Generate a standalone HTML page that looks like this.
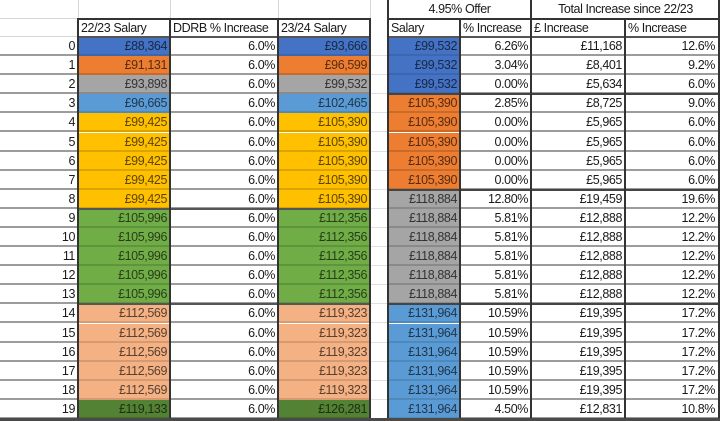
<!DOCTYPE html>
<html>
<head>
<meta charset="utf-8">
<style>
html,body{margin:0;padding:0;background:#fff;}
body{width:720px;height:421px;position:relative;overflow:hidden;font-family:"Liberation Sans",Arial,sans-serif;font-size:12.5px;color:#1a1a1a;}
.r{position:absolute;left:0;width:720px;height:19.1px;}
.r div{position:absolute;top:0;height:100%;box-sizing:border-box;border-bottom:2px solid #9c9c9c;text-align:right;padding-right:3px;line-height:18px;white-space:nowrap;letter-spacing:-0.4px;}
.i{left:0;width:78px;}
.a{left:78px;width:92px;}
.b{left:170px;width:108px;}
.c{left:278px;width:92px;}
.g{left:370px;width:18px;border-bottom-color:#e0e0e0 !important;border-bottom-width:1px !important;}
.d{left:388px;width:72px;}
.e{left:460px;width:71px;}
.f{left:531px;width:94px;}
.h{left:625px;width:95px;padding-right:5px !important;}
.bl{background:#4472c4;color:rgba(0,0,0,0.65);border-bottom-color:#3d66b0 !important;}
.or{background:#ed7d31;color:rgba(0,0,0,0.65);border-bottom-color:#c86a2a !important;}
.gy{background:#a5a5a5;color:rgba(0,0,0,0.7);border-bottom-color:#8a8a8a !important;}
.lb{background:#5b9bd5;color:rgba(0,0,0,0.65);border-bottom-color:#4f88bb !important;}
.ye{background:#ffc000;color:rgba(0,0,0,0.65);border-bottom-color:#d9a400 !important;}
.gr{background:#70ad47;color:rgba(0,0,0,0.65);border-bottom-color:#5f943c !important;}
.pe{background:#f4b183;color:rgba(0,0,0,0.65);border-bottom-color:#d69a72 !important;}
.dg{background:#548235;color:rgba(0,0,0,0.65);border-bottom-color:#466e2c !important;}
.vl{position:absolute;background:#333;width:2px;}
.hl{position:absolute;background:#333;height:2px;}
.lg{position:absolute;background:#d6d6d6;}
.hd{position:absolute;height:18px;line-height:18px;top:19px;padding-left:3px;box-sizing:border-box;letter-spacing:-0.4px;}
</style>
</head>
<body>
<div class="lg" style="left:78px;top:0;width:1px;height:19px"></div>
<div class="lg" style="left:170px;top:0;width:1px;height:19px"></div>
<div class="lg" style="left:278px;top:0;width:1px;height:19px"></div>
<div class="lg" style="left:370px;top:0;width:1px;height:419px"></div>
<div class="lg" style="left:0;top:18px;width:78px;height:1px"></div>
<div class="lg" style="left:0;top:36px;width:78px;height:1px"></div>

<div class="hd" style="left:78px;width:92px">22/23 Salary</div>
<div class="hd" style="left:170px;width:108px">DDRB % Increase</div>
<div class="hd" style="left:278px;width:92px">23/24 Salary</div>
<div class="hd" style="left:388px;width:72px">Salary</div>
<div class="hd" style="left:460px;width:71px">% Increase</div>
<div class="hd" style="left:531px;width:94px">£ Increase</div>
<div class="hd" style="left:625px;width:95px">% Increase</div>
<div style="position:absolute;left:388px;width:143px;top:0;height:19px;line-height:19px;text-align:center;letter-spacing:-0.4px">4.95% Offer</div>
<div style="position:absolute;left:531px;width:189px;top:0;height:19px;line-height:19px;text-align:center;letter-spacing:-0.4px">Total Increase since 22/23</div>

<div class="r" style="top:37px"><div class="i">0</div><div class="a bl">£88,364</div><div class="b">6.0%</div><div class="c bl">£93,666</div><div class="g"></div><div class="d bl">£99,532</div><div class="e">6.26%</div><div class="f">£11,168</div><div class="h">12.6%</div></div>
<div class="r" style="top:56.1px"><div class="i">1</div><div class="a or">£91,131</div><div class="b">6.0%</div><div class="c or">£96,599</div><div class="g"></div><div class="d bl">£99,532</div><div class="e">3.04%</div><div class="f">£8,401</div><div class="h">9.2%</div></div>
<div class="r" style="top:75.2px"><div class="i">2</div><div class="a gy">£93,898</div><div class="b">6.0%</div><div class="c gy">£99,532</div><div class="g"></div><div class="d bl">£99,532</div><div class="e">0.00%</div><div class="f">£5,634</div><div class="h">6.0%</div></div>
<div class="r" style="top:94.3px"><div class="i">3</div><div class="a lb">£96,665</div><div class="b">6.0%</div><div class="c lb">£102,465</div><div class="g"></div><div class="d or">£105,390</div><div class="e">2.85%</div><div class="f">£8,725</div><div class="h">9.0%</div></div>
<div class="r" style="top:113.4px"><div class="i">4</div><div class="a ye">£99,425</div><div class="b">6.0%</div><div class="c ye">£105,390</div><div class="g"></div><div class="d or">£105,390</div><div class="e">0.00%</div><div class="f">£5,965</div><div class="h">6.0%</div></div>
<div class="r" style="top:132.5px"><div class="i">5</div><div class="a ye">£99,425</div><div class="b">6.0%</div><div class="c ye">£105,390</div><div class="g"></div><div class="d or">£105,390</div><div class="e">0.00%</div><div class="f">£5,965</div><div class="h">6.0%</div></div>
<div class="r" style="top:151.6px"><div class="i">6</div><div class="a ye">£99,425</div><div class="b">6.0%</div><div class="c ye">£105,390</div><div class="g"></div><div class="d or">£105,390</div><div class="e">0.00%</div><div class="f">£5,965</div><div class="h">6.0%</div></div>
<div class="r" style="top:170.7px"><div class="i">7</div><div class="a ye">£99,425</div><div class="b">6.0%</div><div class="c ye">£105,390</div><div class="g"></div><div class="d or">£105,390</div><div class="e">0.00%</div><div class="f">£5,965</div><div class="h">6.0%</div></div>
<div class="r" style="top:189.8px"><div class="i">8</div><div class="a ye">£99,425</div><div class="b">6.0%</div><div class="c ye">£105,390</div><div class="g"></div><div class="d gy">£118,884</div><div class="e">12.80%</div><div class="f">£19,459</div><div class="h">19.6%</div></div>
<div class="r" style="top:208.9px"><div class="i">9</div><div class="a gr">£105,996</div><div class="b">6.0%</div><div class="c gr">£112,356</div><div class="g"></div><div class="d gy">£118,884</div><div class="e">5.81%</div><div class="f">£12,888</div><div class="h">12.2%</div></div>
<div class="r" style="top:228px"><div class="i">10</div><div class="a gr">£105,996</div><div class="b">6.0%</div><div class="c gr">£112,356</div><div class="g"></div><div class="d gy">£118,884</div><div class="e">5.81%</div><div class="f">£12,888</div><div class="h">12.2%</div></div>
<div class="r" style="top:247.1px"><div class="i">11</div><div class="a gr">£105,996</div><div class="b">6.0%</div><div class="c gr">£112,356</div><div class="g"></div><div class="d gy">£118,884</div><div class="e">5.81%</div><div class="f">£12,888</div><div class="h">12.2%</div></div>
<div class="r" style="top:266.2px"><div class="i">12</div><div class="a gr">£105,996</div><div class="b">6.0%</div><div class="c gr">£112,356</div><div class="g"></div><div class="d gy">£118,884</div><div class="e">5.81%</div><div class="f">£12,888</div><div class="h">12.2%</div></div>
<div class="r" style="top:285.3px"><div class="i">13</div><div class="a gr">£105,996</div><div class="b">6.0%</div><div class="c gr">£112,356</div><div class="g"></div><div class="d gy">£118,884</div><div class="e">5.81%</div><div class="f">£12,888</div><div class="h">12.2%</div></div>
<div class="r" style="top:304.4px"><div class="i">14</div><div class="a pe">£112,569</div><div class="b">6.0%</div><div class="c pe">£119,323</div><div class="g"></div><div class="d lb">£131,964</div><div class="e">10.59%</div><div class="f">£19,395</div><div class="h">17.2%</div></div>
<div class="r" style="top:323.5px"><div class="i">15</div><div class="a pe">£112,569</div><div class="b">6.0%</div><div class="c pe">£119,323</div><div class="g"></div><div class="d lb">£131,964</div><div class="e">10.59%</div><div class="f">£19,395</div><div class="h">17.2%</div></div>
<div class="r" style="top:342.6px"><div class="i">16</div><div class="a pe">£112,569</div><div class="b">6.0%</div><div class="c pe">£119,323</div><div class="g"></div><div class="d lb">£131,964</div><div class="e">10.59%</div><div class="f">£19,395</div><div class="h">17.2%</div></div>
<div class="r" style="top:361.7px"><div class="i">17</div><div class="a pe">£112,569</div><div class="b">6.0%</div><div class="c pe">£119,323</div><div class="g"></div><div class="d lb">£131,964</div><div class="e">10.59%</div><div class="f">£19,395</div><div class="h">17.2%</div></div>
<div class="r" style="top:380.8px"><div class="i">18</div><div class="a pe">£112,569</div><div class="b">6.0%</div><div class="c pe">£119,323</div><div class="g"></div><div class="d lb">£131,964</div><div class="e">10.59%</div><div class="f">£19,395</div><div class="h">17.2%</div></div>
<div class="r" style="top:399.9px"><div class="i">19</div><div class="a dg">£119,133</div><div class="b">6.0%</div><div class="c dg">£126,281</div><div class="g"></div><div class="d lb">£131,964</div><div class="e">4.50%</div><div class="f">£12,831</div><div class="h">10.8%</div></div>

<div class="hl" style="left:78px;top:18px;width:293px"></div>
<div class="hl" style="left:78px;top:36px;width:293px;background:#555"></div>
<div class="hl" style="left:388px;top:18px;width:332px"></div>
<div class="hl" style="left:388px;top:36px;width:332px;background:#555"></div>

<div class="hl" style="left:388px;top:93.3px;width:332px;background:#444"></div>
<div class="hl" style="left:388px;top:188.8px;width:332px;background:#444"></div>
<div class="hl" style="left:388px;top:303.4px;width:332px;background:#444"></div>
<div class="hl" style="left:78px;top:207.9px;width:293px;background:#555"></div>
<div class="hl" style="left:78px;top:303.4px;width:293px;background:#555"></div>

<div class="vl" style="left:77px;top:18px;height:400px"></div>
<div class="vl" style="left:169px;top:18px;height:400px"></div>
<div class="vl" style="left:277px;top:18px;height:400px"></div>
<div class="vl" style="left:369px;top:18px;height:400px"></div>
<div class="vl" style="left:387px;top:0;height:418px"></div>
<div class="vl" style="left:459px;top:18px;height:400px"></div>
<div class="vl" style="left:530px;top:0;height:418px"></div>
<div class="vl" style="left:624px;top:18px;height:400px"></div>
<div class="vl" style="left:718px;top:0;height:418px"></div>

<div style="position:absolute;left:0;top:418px;width:720px;height:3px;background:#4a4a4a"></div>
</body>
</html>
